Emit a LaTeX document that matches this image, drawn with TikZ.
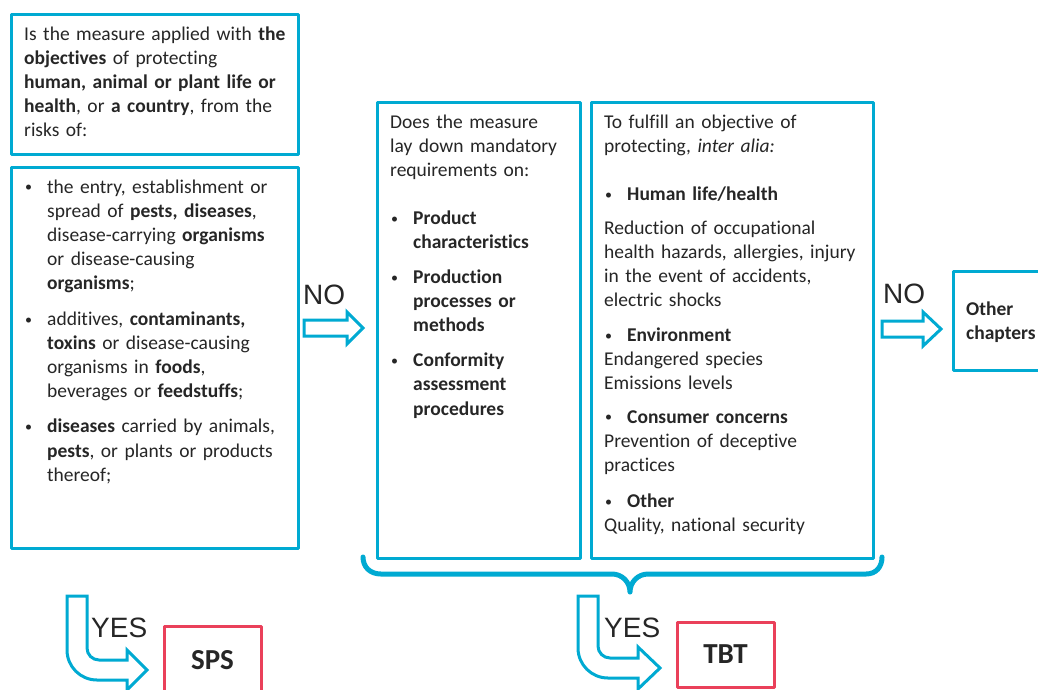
\documentclass[tikz,border=0pt]{standalone}
\usepackage{fontspec}
\setmainfont{Carlito}[RawFeature={-liga;-clig;-dlig;-calt}]
\newfontfamily\arialf{Liberation Sans}
\definecolor{wcyan}{RGB}{0,170,210}
\definecolor{wred}{RGB}{234,64,90}
\definecolor{wtext}{RGB}{38,38,38}
\newcommand{\bul}{\makebox[23pt][l]{\hspace*{1pt}\raisebox{0.12ex}{\scalebox{0.72}{•}}}}
\newcommand{\ind}{\hspace*{23pt}}
\tikzset{
  cbox/.style={draw=wcyan, line width=3pt, rectangle, inner sep=0pt, line join=round},
  rbox/.style={draw=wred, line width=3pt, rectangle, inner sep=0pt, line join=round},
  txt/.style={anchor=base west, inner sep=0pt, text width=320pt, align=left, text=wtext,
              font=\fontsize{19.5}{24.1}\selectfont},
  yn/.style={anchor=base west, inner sep=0pt, text=wtext, font=\arialf\fontsize{28}{30}\selectfont},
  big/.style={anchor=base, inner sep=0pt, text=wtext, font=\bfseries\fontsize{29}{31}\selectfont},
  blockarrow/.style={draw=wcyan, line width=3pt, fill=white, line join=miter},
  brace/.style={draw=wcyan, line width=5pt, line cap=round, line join=round}
}
\begin{document}
\begin{tikzpicture}[x=1pt,y=-1pt]
\clip (0,0) rectangle (1038,689);
\fill[white] (0,0) rectangle (1038,689);

% boxes
\node[cbox, minimum width=287pt, minimum height=140pt] (q1) at (154.5,84) {};
\node[cbox, minimum width=287pt, minimum height=381pt] (q2) at (154.5,357.5) {};
\node[cbox, minimum width=203pt, minimum height=456pt] (q3) at (478.5,330) {};
\node[cbox, minimum width=282pt, minimum height=456pt] (q4) at (732,330) {};
\node[cbox, minimum width=92pt, minimum height=99pt] (oc) at (999,320.5) {};
\node[rbox, minimum width=97pt, minimum height=69pt] (sps) at (212.5,660.5) {};
\node[rbox, minimum width=97pt, minimum height=65pt] (tbt) at (725.5,654.5) {};

% texts
\node[txt] (t1) at (24,40) {Is the measure applied with \textbf{the}\\
\textbf{objectives} of protecting\\
\textbf{human, animal or plant life or}\\
\textbf{health}, or \textbf{a country}, from the\\
risks of:};

\node[txt] (t2) at (24,193) {\bul the entry, establishment or\\
\ind spread of \textbf{pests, diseases},\\
\ind disease-carrying \textbf{organisms}\\
\ind or disease-causing\\
\ind\textbf{organisms};\\[12pt]
\bul additives, \textbf{contaminants,}\\
\ind\textbf{toxins} or disease-causing\\
\ind organisms in \textbf{foods},\\
\ind beverages or \textbf{feedstuffs};\\[11pt]
\bul\textbf{diseases} carried by animals,\\
\ind\textbf{pests}, or plants or products\\
\ind thereof;};

\node[txt] (t3) at (390,128) {Does the measure\\
lay down mandatory\\
requirements on:\\[24pt]
\bul\textbf{Product}\\
\ind\textbf{characteristics}\\[11pt]
\bul\textbf{Production}\\
\ind\textbf{processes or}\\
\ind\textbf{methods}\\[11pt]
\bul\textbf{Conformity}\\
\ind\textbf{assessment}\\
\ind\textbf{procedures}};

\node[txt] (t4) at (604,128) {To fulfill an objective of\\
protecting, \textit{inter alia:}\\[24pt]
\bul\textbf{Human life/health}\\[10pt]
Reduction of occupational\\
health hazards, allergies, injury\\
in the event of accidents,\\
electric shocks\\[11pt]
\bul\textbf{Environment}\\
Endangered species\\
Emissions levels\\[9pt]
\bul\textbf{Consumer concerns}\\
Prevention of deceptive\\
practices\\[12pt]
\bul\textbf{Other}\\
Quality, national security};

\node[txt] (t5) at (966,315) {\textbf{Other}\\ \textbf{chapters}};

\node[big] (tsps) at (212.5,669) {SPS};
\node[big] (ttbt) at (725.5,663) {TBT};

\node[yn] (no1) at (303,304) {NO};
\node[yn] (no2) at (883,303) {NO};
\node[yn] (yes1) at (91,637) {YES};
\node[yn] (yes2) at (604,637) {YES};

% NO block arrows
\draw[blockarrow] (304,320) -- (347,320) -- (347,312) -- (363,328) -- (347,344) -- (347,336) -- (304,336) -- cycle;
\draw[blockarrow] (882,321) -- (923,321) -- (923,312) -- (941,329) -- (923,346) -- (923,337) -- (882,337) -- cycle;

% YES bent arrows
\draw[blockarrow] (67,596) -- (87,596) -- (87,648)
  .. controls (87,654.6) and (92.4,660) .. (99,660)
  -- (127,660) -- (127,650) -- (147,670) -- (127,690) -- (127,680) -- (97,680)
  .. controls (80.4,680) and (67,666.6) .. (67,650) -- cycle;
\draw[blockarrow] (578,596) -- (598,596) -- (598,646)
  .. controls (598,652.6) and (603.4,658) .. (610,658)
  -- (638,658) -- (638,647) -- (660,668) -- (638,689) -- (638,678) -- (608,678)
  .. controls (591.4,678) and (578,664.6) .. (578,648) -- cycle;

% brace
\draw[brace] (363,557) .. controls (363,567) and (370,574) .. (381,574)
  -- (612,574) .. controls (622,574) and (630,582) .. (630,592)
  .. controls (630,582) and (638,574) .. (648,574)
  -- (866,574) .. controls (876,574) and (882,567) .. (882,557);
\end{tikzpicture}
\end{document}
